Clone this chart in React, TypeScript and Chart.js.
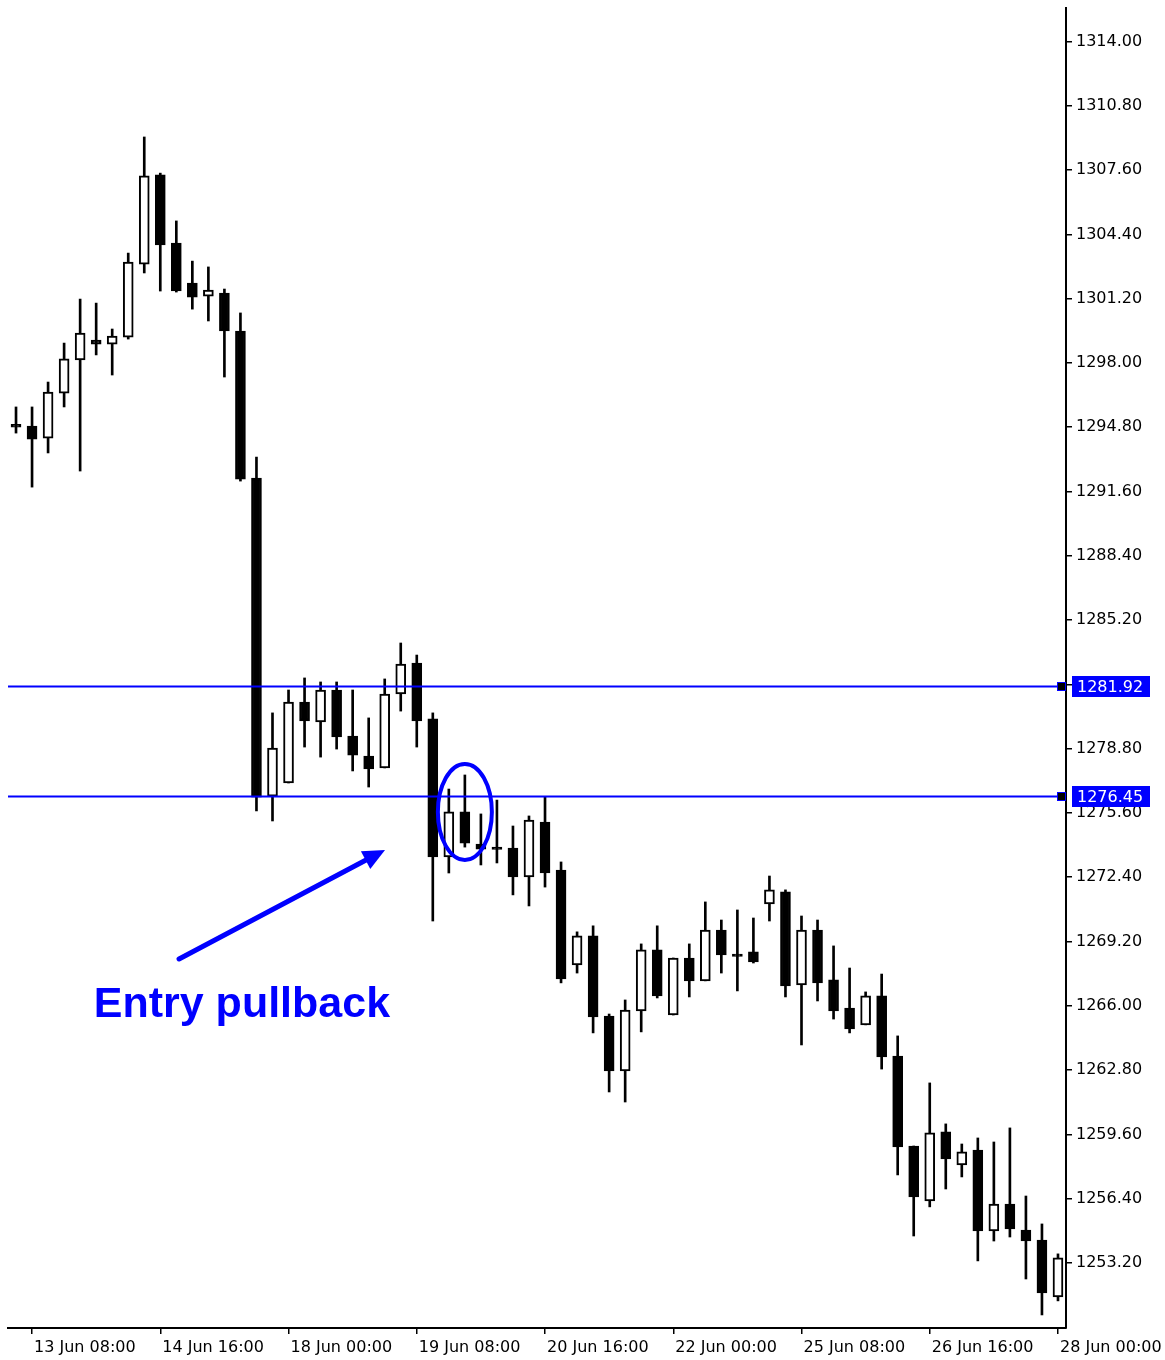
import React, { useEffect, useRef } from 'react';
import { Chart, registerables } from 'chart.js';

Chart.register(...registerables);

// 4-hour candle times
const times = [
  '13 Jun 04:00', '13 Jun 08:00', '13 Jun 12:00', '13 Jun 16:00', '13 Jun 20:00', '14 Jun 00:00', '14 Jun 04:00', '14 Jun 08:00',
  '14 Jun 12:00', '14 Jun 16:00', '14 Jun 20:00', '15 Jun 00:00', '15 Jun 04:00', '15 Jun 08:00', '15 Jun 12:00', '15 Jun 16:00',
  '15 Jun 20:00', '18 Jun 00:00', '18 Jun 04:00', '18 Jun 08:00', '18 Jun 12:00', '18 Jun 16:00', '18 Jun 20:00', '19 Jun 00:00',
  '19 Jun 04:00', '19 Jun 08:00', '19 Jun 12:00', '19 Jun 16:00', '19 Jun 20:00', '20 Jun 00:00', '20 Jun 04:00', '20 Jun 08:00',
  '20 Jun 12:00', '20 Jun 16:00', '20 Jun 20:00', '21 Jun 00:00', '21 Jun 04:00', '21 Jun 08:00', '21 Jun 12:00', '21 Jun 16:00',
  '21 Jun 20:00', '22 Jun 00:00', '22 Jun 04:00', '22 Jun 08:00', '22 Jun 12:00', '22 Jun 16:00', '22 Jun 20:00', '25 Jun 00:00',
  '25 Jun 04:00', '25 Jun 08:00', '25 Jun 12:00', '25 Jun 16:00', '25 Jun 20:00', '26 Jun 00:00', '26 Jun 04:00', '26 Jun 08:00',
  '26 Jun 12:00', '26 Jun 16:00', '26 Jun 20:00', '27 Jun 00:00', '27 Jun 04:00', '27 Jun 08:00', '27 Jun 12:00', '27 Jun 16:00',
  '27 Jun 20:00', '28 Jun 00:00',
];

const opens = [
  1294.94, 1294.86, 1294.26, 1296.50, 1298.15, 1299.14, 1298.94, 1299.29, 1302.92, 1307.36,
  1303.97, 1301.98, 1301.33, 1301.48, 1299.59, 1292.27, 1276.44, 1277.09, 1281.12, 1280.13,
  1281.72, 1279.43, 1278.43, 1277.84, 1281.52, 1283.06, 1280.28, 1273.41, 1275.65, 1274.05,
  1273.90, 1273.85, 1272.41, 1275.15, 1272.76, 1268.03, 1269.48, 1265.49, 1262.76, 1265.74,
  1268.78, 1265.54, 1268.38, 1267.24, 1269.77, 1268.58, 1268.68, 1271.07, 1271.67, 1267.04,
  1269.77, 1267.29, 1265.89, 1265.05, 1266.49, 1263.50, 1259.02, 1256.29, 1259.72, 1258.08,
  1258.82, 1254.79, 1256.13, 1254.84, 1254.34, 1251.51,
];
const highs = [
  1295.81, 1295.81, 1297.05, 1298.99, 1301.18, 1300.98, 1299.69, 1303.47, 1309.25, 1307.45,
  1305.07, 1303.07, 1302.78, 1301.68, 1300.49, 1293.32, 1280.58, 1281.72, 1282.32, 1282.12,
  1282.12, 1281.72, 1280.33, 1282.27, 1284.06, 1283.46, 1280.58, 1276.79, 1277.49, 1275.55,
  1276.24, 1274.95, 1275.45, 1276.39, 1273.16, 1269.68, 1269.98, 1265.59, 1266.29, 1269.08,
  1269.98, 1268.38, 1269.08, 1271.17, 1270.27, 1270.77, 1270.37, 1272.46, 1271.77, 1270.47,
  1270.27, 1268.98, 1267.88, 1266.69, 1267.58, 1264.50, 1259.02, 1262.16, 1260.12, 1259.12,
  1259.42, 1259.22, 1259.92, 1256.53, 1255.14, 1253.65,
];
const lows = [
  1294.51, 1291.82, 1293.52, 1295.81, 1292.62, 1298.40, 1297.40, 1299.19, 1302.48, 1301.58,
  1301.53, 1300.68, 1300.09, 1297.30, 1292.12, 1275.70, 1275.20, 1277.09, 1278.88, 1278.38,
  1278.78, 1277.69, 1276.89, 1277.84, 1280.67, 1278.88, 1270.22, 1272.61, 1273.90, 1273.01,
  1273.11, 1271.52, 1270.97, 1271.91, 1267.14, 1267.63, 1264.65, 1261.71, 1261.21, 1264.70,
  1266.39, 1265.54, 1266.44, 1267.24, 1267.63, 1266.74, 1268.13, 1270.22, 1266.44, 1264.05,
  1266.24, 1265.34, 1264.65, 1265.05, 1262.85, 1257.58, 1254.54, 1255.99, 1256.88, 1257.48,
  1253.30, 1254.29, 1254.49, 1252.40, 1250.61, 1251.31,
];
const closes = [
  1294.80, 1294.21, 1296.55, 1298.20, 1299.49, 1298.94, 1299.34, 1303.02, 1307.31, 1303.87,
  1301.58, 1301.28, 1301.63, 1299.59, 1292.22, 1276.39, 1278.83, 1281.12, 1280.18, 1281.72,
  1279.38, 1278.48, 1277.79, 1281.52, 1283.01, 1280.18, 1273.41, 1275.65, 1274.10, 1273.80,
  1273.78, 1272.41, 1275.25, 1272.61, 1267.34, 1269.48, 1265.44, 1262.76, 1265.79, 1268.78,
  1266.49, 1268.38, 1267.24, 1269.77, 1268.53, 1268.46, 1268.18, 1271.77, 1266.99, 1269.77,
  1267.14, 1265.74, 1264.85, 1266.49, 1263.45, 1258.97, 1256.48, 1259.67, 1258.38, 1258.73,
  1254.79, 1256.13, 1254.89, 1254.29, 1251.71, 1253.45,
];

const levels = [1281.92, 1276.45];
const yTicks = [
  1253.2, 1256.4, 1259.6, 1262.8, 1266.0, 1269.2, 1272.4, 1275.6, 1278.8, 1282.0,
  1285.2, 1288.4, 1291.6, 1294.8, 1298.0, 1301.2, 1304.4, 1307.6, 1310.8, 1314.0,
];
const xLabelIndices = [1, 9, 17, 25, 33, 41, 49, 57, 65];

const annotationText = 'Entry pullback';
// annotation anchors in data space: [category index, price]
const ellipseCenter = [28, 1275.65];
const arrowTail = [10.17, 1268.33];
const arrowTip = [23.02, 1273.76];
const textAnchor = [4.85, 1265.44];

const BLUE = '#0000ff';
const AXIS_FONT = 'DejaVu Sans';

const overlayPlugin = {
  id: 'overlay',
  afterDraw(chart: any) {
    const { ctx, chartArea, scales } = chart;
    const xs = scales.x;
    const ys = scales.y;
    ctx.save();

    // horizontal levels
    levels.forEach((lv) => {
      const y = Math.round(ys.getPixelForValue(lv)) + 0.5;
      ctx.strokeStyle = BLUE;
      ctx.lineWidth = 2;
      ctx.beginPath();
      ctx.moveTo(chartArea.left, y);
      ctx.lineTo(chartArea.right, y);
      ctx.stroke();
      // marker square
      ctx.fillStyle = BLUE;
      ctx.fillRect(chartArea.right - 9, y - 4.5, 9, 9);
      ctx.fillStyle = '#000';
      ctx.fillRect(chartArea.right - 8, y - 3.5, 7, 7);
      // label box
      ctx.fillStyle = BLUE;
      ctx.fillRect(chartArea.right + 6, y - 10.5, 78, 21);
      ctx.fillStyle = '#fff';
      ctx.font = `16px "${AXIS_FONT}"`;
      ctx.textAlign = 'left';
      ctx.textBaseline = 'middle';
      ctx.fillText(lv.toFixed(2), chartArea.right + 11, y + 1);
    });

    // ellipse
    const ex = xs.getPixelForValue(ellipseCenter[0]);
    const ey = ys.getPixelForValue(ellipseCenter[1]);
    ctx.strokeStyle = BLUE;
    ctx.lineWidth = 4;
    ctx.beginPath();
    ctx.ellipse(ex, ey, 27, 48, 0, 0, Math.PI * 2);
    ctx.stroke();

    // arrow
    const tx = xs.getPixelForValue(arrowTail[0]);
    const ty = ys.getPixelForValue(arrowTail[1]);
    const hx = xs.getPixelForValue(arrowTip[0]);
    const hy = ys.getPixelForValue(arrowTip[1]);
    const ang = Math.atan2(hy - ty, hx - tx);
    const headLen = 22;
    const headHalf = 10;
    const bx = hx - headLen * Math.cos(ang);
    const by = hy - headLen * Math.sin(ang);
    ctx.lineWidth = 5;
    ctx.lineCap = 'round';
    ctx.beginPath();
    ctx.moveTo(tx, ty);
    ctx.lineTo(bx, by);
    ctx.stroke();
    ctx.fillStyle = BLUE;
    ctx.beginPath();
    ctx.moveTo(hx, hy);
    ctx.lineTo(bx + headHalf * Math.sin(ang), by - headHalf * Math.cos(ang));
    ctx.lineTo(bx - headHalf * Math.sin(ang), by + headHalf * Math.cos(ang));
    ctx.closePath();
    ctx.fill();

    // text
    ctx.font = 'bold 43px "Liberation Sans", Arial, sans-serif';
    ctx.fillStyle = BLUE;
    ctx.textAlign = 'left';
    ctx.textBaseline = 'alphabetic';
    ctx.fillText(annotationText, xs.getPixelForValue(textAnchor[0]), ys.getPixelForValue(textAnchor[1]));

    ctx.restore();
  },
};

export default function App() {
  const canvasRef = useRef<HTMLCanvasElement | null>(null);

  useEffect(() => {
    if (!canvasRef.current) return;
    const bull = opens.map((o, i) => closes[i] >= o);
    const chart = new Chart(canvasRef.current, {
      type: 'bar',
      data: {
        labels: times,
        datasets: [
          {
            label: 'body',
            data: opens.map((o, i) => [o, closes[i]]),
            backgroundColor: bull.map((b) => (b ? '#ffffff' : '#000000')),
            borderColor: '#000000',
            borderWidth: 2,
            borderSkipped: false,
            barThickness: 10,
            grouped: false,
            order: 0,
          } as any,
          {
            label: 'wick',
            data: lows.map((l, i) => [l, highs[i]]),
            backgroundColor: '#000000',
            borderWidth: 0,
            barThickness: 2,
            grouped: false,
            order: 1,
          } as any,
        ],
      },
      options: {
        responsive: false,
        animation: false,
        events: [],
        layout: { padding: { left: 8, top: 8, right: 0, bottom: 0 } },
        plugins: {
          legend: { display: false },
          tooltip: { enabled: false },
          title: { display: false },
        },
        scales: {
          x: {
            type: 'category',
            offset: true,
            afterBuildTicks: (scale: any) => {
              scale.ticks = xLabelIndices.map((v) => ({ value: v }));
            },
            afterFit: (scale: any) => {
              scale.height = 32;
              scale.paddingLeft = 0;
              scale.paddingRight = 0;
            },
            grid: {
              display: true,
              drawOnChartArea: false,
              drawTicks: true,
              tickLength: 6,
              color: '#000',
              lineWidth: 1.5,
              offset: false,
            },
            border: { display: true, color: '#000', width: 2 },
            ticks: {
              autoSkip: false,
              maxRotation: 0,
              minRotation: 0,
              align: 'start',
              labelOffset: 2,
              padding: 4,
              color: '#000',
              font: { family: AXIS_FONT, size: 16 },
            },
          },
          y: {
            type: 'linear',
            position: 'right',
            min: 1249.96,
            max: 1315.67,
            afterBuildTicks: (scale: any) => {
              scale.ticks = yTicks.map((v) => ({ value: v }));
            },
            afterFit: (scale: any) => {
              scale.width = 99;
              scale.paddingTop = 0;
              scale.paddingBottom = 0;
            },
            grid: {
              display: true,
              drawOnChartArea: false,
              drawTicks: true,
              tickLength: 6,
              color: '#000',
              lineWidth: 1.5,
            },
            border: { display: true, color: '#000', width: 2 },
            ticks: {
              padding: 4,
              color: '#000',
              font: { family: AXIS_FONT, size: 16 },
              callback: (v: any) => Number(v).toFixed(2),
            },
          },
        },
      } as any,
      plugins: [overlayPlugin],
    });
    return () => chart.destroy();
  }, []);

  return (
    <div style={{ position: 'absolute', left: 0, top: 0, width: 1165, height: 1360, background: '#fff' }}>
      <canvas ref={canvasRef} width={1165} height={1360} style={{ display: 'block', width: 1165, height: 1360 }} />
    </div>
  );
}
